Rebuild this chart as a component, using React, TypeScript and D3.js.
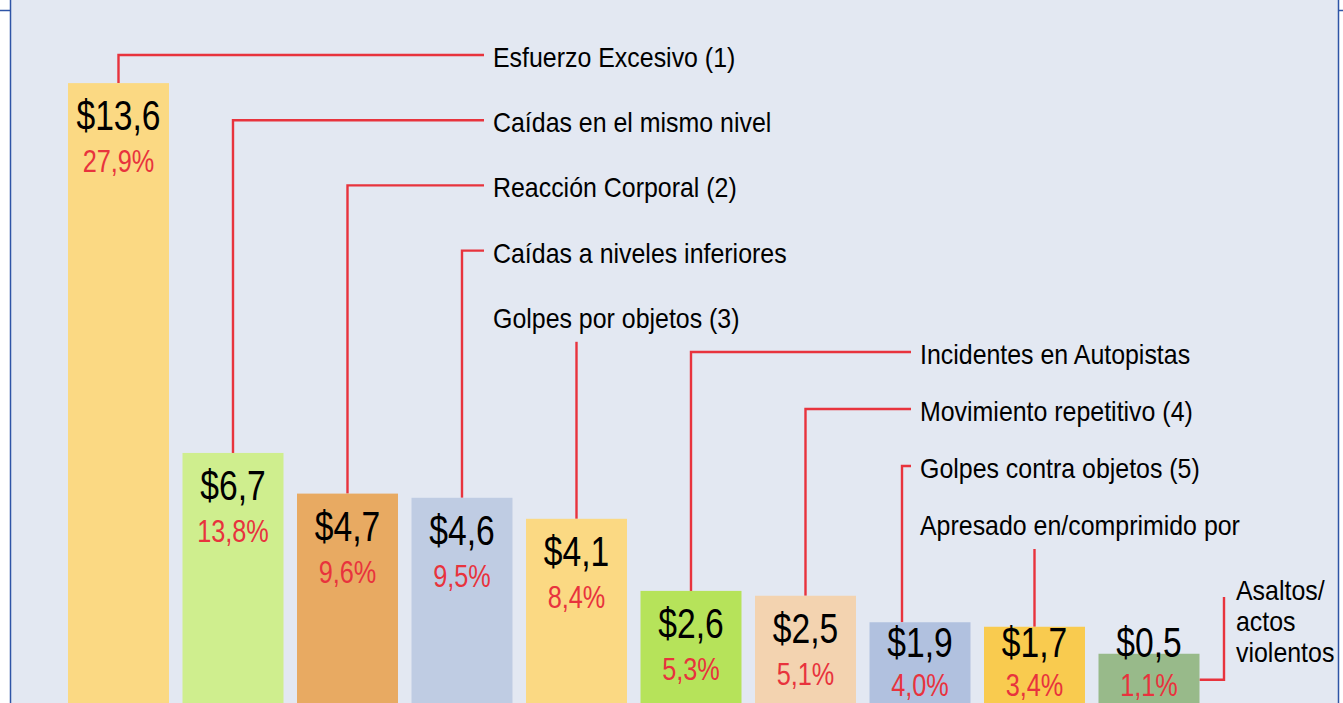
import React from "react";
import * as d3 from "d3";

const categories = [
  "Esfuerzo Excesivo (1)",
  "Caídas en el mismo nivel",
  "Reacción Corporal (2)",
  "Caídas a niveles inferiores",
  "Golpes por objetos (3)",
  "Incidentes en Autopistas",
  "Movimiento repetitivo (4)",
  "Golpes contra objetos (5)",
  "Apresado en/comprimido por",
  "Asaltos/\nactos\nviolentos",
];
const costs = [13.6, 6.7, 4.7, 4.6, 4.1, 2.6, 2.5, 1.9, 1.7, 0.5];
const shares = [27.9, 13.8, 9.6, 9.5, 8.4, 5.3, 5.1, 4.0, 3.4, 1.1];
const barColors = [
  "#FBD983", "#CFEE8E", "#E8AA62", "#BFCCE3", "#FBD983",
  "#B6E35A", "#F3D3B0", "#B1C1DF", "#F9CB4F", "#98BA8A",
];

const W = 1343;
const H = 703;
const RED = "#E8333D";
const BLUE = "#2E54A6";
const FONT = "'Liberation Sans', Arial, sans-serif";

const locale = d3.formatLocale({
  decimal: ",",
  thousands: ".",
  grouping: [3],
  currency: ["$", ""],
});
const fmtCost = locale.format("$.1f");
const fmtPct = (v: number) => locale.format(".1f")(v) + "%";

export default function App() {
  const step = 114.5;
  const pad = 0.118;
  const x = d3
    .scaleBand<string>()
    .domain(categories)
    .range([68, 68 + step * (categories.length - pad)])
    .paddingInner(pad)
    .paddingOuter(0);
  // the original graphic's bar heights are not proportional: piecewise scale
  const y = d3
    .scaleLinear()
    .domain([0, 2, 4, 5, 7, 14])
    .range([665, 620, 523, 481, 448, 61]);

  const bw = x.bandwidth();

  // label layout: columns of category labels
  const leftX = 493;
  const rightX = 920;
  const layout = categories.map((c, i) => {
    if (i < 5) return { tx: leftX, ty: 67 + i * 65.2, col: 0 };
    if (i < 9) return { tx: rightX, ty: 364 + (i - 5) * 57, col: 1 };
    return { tx: 1236, ty: 600, col: 2 };
  });

  const txt = (
    key: string,
    tx: number,
    ty: number,
    s: string,
    size: number,
    sx: number,
    fill: string,
    anchor: string = "start"
  ) => (
    <text
      key={key}
      transform={`translate(${tx},${ty}) scale(${sx},1)`}
      fontFamily={FONT}
      fontSize={size}
      fill={fill}
      textAnchor={anchor}
    >
      {s}
    </text>
  );

  return (
    <svg
      width={W}
      height={H}
      style={{ position: "absolute", left: 0, top: 0, display: "block" }}
    >
      <rect x={0} y={0} width={W} height={H} fill="#ffffff" />
      <rect x={10} y={0} width={1328.5} height={H} fill="#E3E8F2" />
      <line x1={10.5} x2={10.5} y1={0} y2={H} stroke={BLUE} strokeWidth={1.5} />
      <line x1={0} x2={10.5} y1={10.5} y2={10.5} stroke={BLUE} strokeWidth={1.5} />
      <line x1={1338.5} x2={1338.5} y1={0} y2={H} stroke={BLUE} strokeWidth={1.5} />
      <line x1={1338.5} x2={W} y1={10.5} y2={10.5} stroke={BLUE} strokeWidth={1.5} />

      {/* connectors */}
      <g stroke={RED} strokeWidth={2.4} fill="none">
        {categories.map((c, i) => {
          const L = layout[i];
          const top = y(costs[i]);
          const cx = (x(c) as number) + bw / 2;
          if (L.col === 2) {
            const right = (x(c) as number) + bw;
            const vx = L.tx - 12;
            return (
              <path
                key={c}
                d={`M${right},${top + 26}H${vx}V${L.ty - 3}`}
              />
            );
          }
          if (cx > L.tx + 20) {
            return <path key={c} d={`M${cx},${L.ty + 14}V${top}`} />;
          }
          const lx = Math.min(cx, L.tx - 18);
          const ly = L.ty - 12;
          return <path key={c} d={`M${lx},${top}V${ly}H${L.tx - 9}`} />;
        })}
      </g>

      {/* bars */}
      {categories.map((c, i) => (
        <rect
          key={c}
          x={x(c)}
          y={y(costs[i])}
          width={bw}
          height={H - y(costs[i]) + 5}
          fill={barColors[i]}
        />
      ))}

      {/* value labels */}
      {categories.map((c, i) => {
        const cx = (x(c) as number) + bw / 2;
        const vy = Math.min(y(costs[i]) + 47, 657);
        const py = Math.min(vy + 42, 696);
        return (
          <g key={c}>
            {txt("v" + i, cx, vy, fmtCost(costs[i]), 42, 0.8, "#000", "middle")}
            {txt("p" + i, cx, py, fmtPct(shares[i]), 32, 0.79, RED, "middle")}
          </g>
        );
      })}

      {/* category labels */}
      {categories.map((c, i) => {
        const L = layout[i];
        return c
          .split("\n")
          .map((line, k) =>
            txt(c + k, L.tx, L.ty + k * 31, line, 28, 0.89, "#000")
          );
      })}
    </svg>
  );
}
